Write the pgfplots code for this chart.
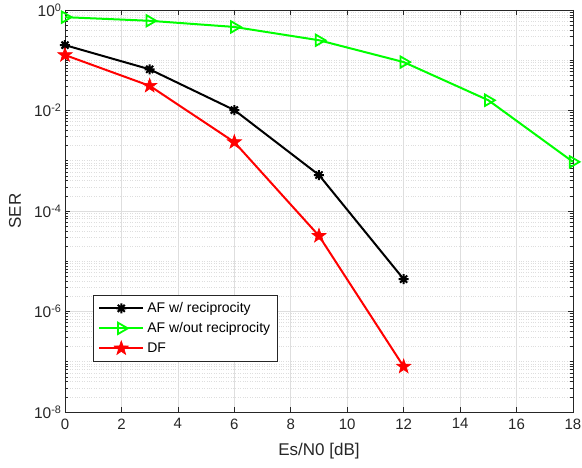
\documentclass[border=0pt]{standalone}
\usepackage{fontspec}
\setmainfont{Liberation Sans}
\usepackage{pgfplots}
\pgfplotsset{compat=1.18}
\definecolor{axgray}{RGB}{38,38,38}
\definecolor{gridgray}{RGB}{222,222,222}
\definecolor{mgreen}{RGB}{0,255,0}
\definecolor{mred}{RGB}{255,0,0}

% filled five-pointed star like matlab's 'p' marker
\pgfdeclareplotmark{pentagram*}{%
  \pgfpathmoveto{\pgfpointpolar{90}{\pgfplotmarksize}}%
  \pgfpathlineto{\pgfpointpolar{126}{0.40\pgfplotmarksize}}%
  \pgfpathlineto{\pgfpointpolar{162}{\pgfplotmarksize}}%
  \pgfpathlineto{\pgfpointpolar{198}{0.40\pgfplotmarksize}}%
  \pgfpathlineto{\pgfpointpolar{234}{\pgfplotmarksize}}%
  \pgfpathlineto{\pgfpointpolar{270}{0.40\pgfplotmarksize}}%
  \pgfpathlineto{\pgfpointpolar{306}{\pgfplotmarksize}}%
  \pgfpathlineto{\pgfpointpolar{342}{0.40\pgfplotmarksize}}%
  \pgfpathlineto{\pgfpointpolar{18}{\pgfplotmarksize}}%
  \pgfpathlineto{\pgfpointpolar{54}{0.40\pgfplotmarksize}}%
  \pgfpathclose
  \pgfusepathqfillstroke
}
% eight-armed asterisk (matlab '*')
\pgfdeclareplotmark{asterisk8}{%
  \pgfpathmoveto{\pgfpointpolar{0}{\pgfplotmarksize}}\pgfpathlineto{\pgfpointpolar{180}{\pgfplotmarksize}}%
  \pgfpathmoveto{\pgfpointpolar{45}{\pgfplotmarksize}}\pgfpathlineto{\pgfpointpolar{225}{\pgfplotmarksize}}%
  \pgfpathmoveto{\pgfpointpolar{90}{\pgfplotmarksize}}\pgfpathlineto{\pgfpointpolar{270}{\pgfplotmarksize}}%
  \pgfpathmoveto{\pgfpointpolar{135}{\pgfplotmarksize}}\pgfpathlineto{\pgfpointpolar{315}{\pgfplotmarksize}}%
  \pgfusepathqstroke
}

\begin{document}
\begin{tikzpicture}
\begin{axis}[
    scale only axis,
    width=508pt,
    height=402pt,
    ymode=log,
    xmin=0, xmax=18,
    ymin=1e-8, ymax=1,
    xtick={0,2,...,18},
    ytick={1e-8,1e-6,1e-4,1e-2,1},
    yticklabels={10\textsuperscript{-8},10\textsuperscript{-6},10\textsuperscript{-4},10\textsuperscript{-2},10\textsuperscript{0}},
    minor ytick={2e-8,3e-8,4e-8,5e-8,6e-8,7e-8,8e-8,9e-8,1e-7,
        2e-7,3e-7,4e-7,5e-7,6e-7,7e-7,8e-7,9e-7,
        2e-6,3e-6,4e-6,5e-6,6e-6,7e-6,8e-6,9e-6,1e-5,
        2e-5,3e-5,4e-5,5e-5,6e-5,7e-5,8e-5,9e-5,
        2e-4,3e-4,4e-4,5e-4,6e-4,7e-4,8e-4,9e-4,1e-3,
        2e-3,3e-3,4e-3,5e-3,6e-3,7e-3,8e-3,9e-3,
        2e-2,3e-2,4e-2,5e-2,6e-2,7e-2,8e-2,9e-2,1e-1,
        2e-1,3e-1,4e-1,5e-1,6e-1,7e-1,8e-1,9e-1},
    xmajorgrids, ymajorgrids, yminorgrids,
    major grid style={gridgray, line width=0.7pt},
    minor grid style={gridgray, dotted, line width=0.7pt},
    axis line style={axgray, line width=0.8pt},
    tick style={axgray, line width=0.7pt},
    tick align=inside,
    major tick length=5pt,
    minor tick length=3pt,
    /pgf/number format/assume math mode=true,
    ticklabel style={font=\fontsize{15}{18}\selectfont, text=axgray},
    yticklabel style={font=\fontsize{15.5}{18}\selectfont},
    xticklabel style={yshift=-3pt},
    xlabel={Es/N0 [dB]},
    ylabel={SER},
    label style={font=\fontsize{17}{20}\selectfont, text=axgray},
    xlabel style={at={(rel axis cs:0.5,0)}, anchor=center, yshift=-39pt},
    ylabel style={at={(rel axis cs:0,0.5)}, anchor=center, yshift=50pt},
    clip=false,
    legend style={
        at={(rel axis cs:0.055,0.291)}, anchor=north west,
        draw=axgray, fill=white, line width=0.7pt,
        font=\fontsize{14}{16}\selectfont,
        row sep=0pt, inner xsep=4pt, inner ysep=3pt,
        nodes={inner sep=3pt, text height=11pt, text depth=3pt}
    },
    legend cell align=left,
    legend image code/.code={%
        \path (0pt,0pt);
        \draw[mark repeat=2, mark phase=2, #1] plot coordinates {(1pt,0pt) (23pt,0pt) (45pt,0pt)};}
]
\addplot[black, line width=2pt, mark=asterisk8, mark size=5pt, mark options={line width=2pt}]
    coordinates {(0,0.20) (3,0.066) (6,0.0102) (9,5.2e-4) (12,4.4e-6)};
\addlegendentry{AF w/ reciprocity}
\addplot[mgreen, line width=2pt, mark=triangle, mark size=6.5pt, mark options={rotate=-90, line width=1.8pt, fill=none}]
    coordinates {(0,0.72) (3,0.61) (6,0.46) (9,0.25) (12,0.092) (15,0.016) (18,9.5e-4)};
\addlegendentry{AF w/out reciprocity}
\addplot[mred, line width=2pt, mark=pentagram*, mark size=7.5pt, mark options={line width=0.6pt, fill=mred}]
    coordinates {(0,0.127) (3,0.031) (6,2.35e-3) (9,3.2e-5) (12,8e-8)};
\addlegendentry{DF}
\coordinate (bl) at (rel axis cs:0,0);
\coordinate (tr) at (rel axis cs:1,1);
\end{axis}
\pgfresetboundingbox
\path[use as bounding box] ([xshift=-65pt,yshift=-56pt]bl) rectangle ([xshift=9pt,yshift=10pt]tr);
\end{tikzpicture}
\end{document}
